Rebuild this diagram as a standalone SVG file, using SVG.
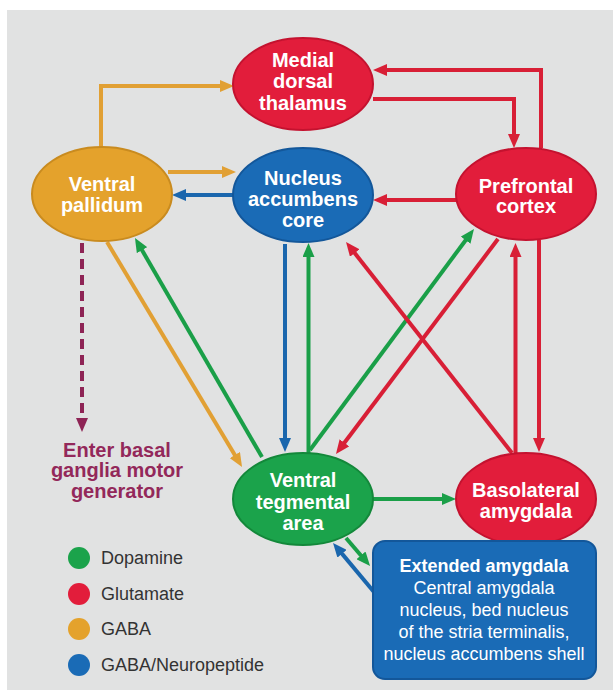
<svg xmlns="http://www.w3.org/2000/svg" width="613" height="700" viewBox="0 0 613 700">
<style>
.bg{fill:#e1e2e2}
.red{fill:#e21d3b;stroke:#c4122f;stroke-width:2}
.blue{fill:#1a6bb6;stroke:#13579a;stroke-width:2}
.green{fill:#1ba34b;stroke:#13883a;stroke-width:2}
.orange{fill:#e4a22c;stroke:#c98b1f;stroke-width:2}
.nt{font-family:"Liberation Sans",Arial,sans-serif;font-weight:bold;font-size:20px;fill:#fff;text-anchor:middle}
.lt{font-family:"Liberation Sans",Arial,sans-serif;font-size:18px;fill:#333}
.et{font-family:"Liberation Sans",Arial,sans-serif;font-size:18px;fill:#fff;text-anchor:middle}
.mt{font-family:"Liberation Sans",Arial,sans-serif;font-weight:bold;font-size:20px;fill:#93285a;text-anchor:middle}
.c{fill:none;stroke-width:4}
.cr{stroke:#d81f36;marker-end:url(#ar)}
.cb{stroke:#1a66ad;marker-end:url(#ab)}
.cg{stroke:#1a9f48;marker-end:url(#ag)}
.co{stroke:#e1a034;marker-end:url(#ao)}
.cm{stroke:#8e2455;stroke-dasharray:10 6;marker-end:url(#am)}
</style>
<defs>
<marker id="ar" markerUnits="userSpaceOnUse" markerWidth="14" markerHeight="12" refX="5" refY="6" orient="auto"><path d="M0,0L14,6L0,12z" fill="#d81f36"/></marker>
<marker id="ab" markerUnits="userSpaceOnUse" markerWidth="14" markerHeight="12" refX="5" refY="6" orient="auto"><path d="M0,0L14,6L0,12z" fill="#1a66ad"/></marker>
<marker id="ag" markerUnits="userSpaceOnUse" markerWidth="14" markerHeight="12" refX="5" refY="6" orient="auto"><path d="M0,0L14,6L0,12z" fill="#1a9f48"/></marker>
<marker id="ao" markerUnits="userSpaceOnUse" markerWidth="14" markerHeight="12" refX="5" refY="6" orient="auto"><path d="M0,0L14,6L0,12z" fill="#e1a034"/></marker>
<marker id="am" markerUnits="userSpaceOnUse" markerWidth="14" markerHeight="12" refX="5" refY="6" orient="auto"><path d="M0,0L14,6L0,12z" fill="#8e2455"/></marker>
</defs>
<rect class="bg" x="7" y="10" width="606" height="680"/>
<g id="connectors">
<path class="c co" d="M101,148V86H225"/>
<path class="c cr" d="M541,148V70H382"/>
<path class="c cr" d="M373,99H514V139"/>
<path class="c co" d="M168,172H227"/>
<path class="c cb" d="M234,195H181"/>
<path class="c cr" d="M456,200H382"/>
<path class="c co" d="M107,242L237.4,459.3"/>
<path class="c cg" d="M262,457L139.5,245.8"/>
<path class="c cb" d="M285,244V443"/>
<path class="c cg" d="M308.5,453V252"/>
<path class="c cg" d="M310,450L468.6,236.2"/>
<path class="c cr" d="M498,239L341.4,446.8"/>
<path class="c cr" d="M512,453L351.6,249.1"/>
<path class="c cr" d="M515.5,453V252"/>
<path class="c cr" d="M539,240V443"/>
<path class="c cg" d="M373,499H447"/>
<path class="c cg" d="M346,538L364.2,559.2"/>
<path class="c cb" d="M374,592L338.8,549.9"/>
<path class="c cm" d="M82,243V423"/>
</g>
<g id="mdt"><ellipse class="red" cx="303" cy="84" rx="70" ry="46"/><text class="nt" x="303" y="67">Medial</text><text class="nt" x="303" y="88">dorsal</text><text class="nt" x="303" y="110">thalamus</text></g>
<g id="vp"><ellipse class="orange" cx="102" cy="194" rx="70" ry="47"/><text class="nt" x="102" y="191">Ventral</text><text class="nt" x="102" y="212">pallidum</text></g>
<g id="nac"><ellipse class="blue" cx="303" cy="195" rx="70" ry="47"/><text class="nt" x="303" y="185">Nucleus</text><text class="nt" x="303" y="206">accumbens</text><text class="nt" x="303" y="227">core</text></g>
<g id="pfc"><ellipse class="red" cx="526" cy="194" rx="70" ry="46"/><text class="nt" x="526" y="193">Prefrontal</text><text class="nt" x="526" y="213">cortex</text></g>
<g id="vta"><ellipse class="green" cx="303" cy="499" rx="70" ry="46"/><text class="nt" x="303" y="487">Ventral</text><text class="nt" x="303" y="509">tegmental</text><text class="nt" x="303" y="530">area</text></g>
<g id="bla"><ellipse class="red" cx="526" cy="499" rx="70" ry="46"/><text class="nt" x="526" y="497">Basolateral</text><text class="nt" x="526" y="518">amygdala</text></g>
<g id="ea"><rect x="373" y="541" width="223" height="138" rx="12" fill="#1a6bb6" stroke="#13579a" stroke-width="2"/><text class="et" x="484" y="572" font-weight="bold">Extended amygdala</text><text class="et" x="484" y="594">Central amygdala</text><text class="et" x="484" y="616">nucleus, bed nucleus</text><text class="et" x="484" y="638">of the stria terminalis,</text><text class="et" x="484" y="660">nucleus accumbens shell</text></g>
<g id="motor"><text class="mt" x="117" y="457">Enter basal</text><text class="mt" x="117" y="477">ganglia motor</text><text class="mt" x="117" y="498">generator</text></g>
<g id="legend">
<circle cx="79" cy="558" r="11" fill="#1ba34b"/><text class="lt" x="101" y="564">Dopamine</text>
<circle cx="79" cy="594" r="11" fill="#e21d3b"/><text class="lt" x="101" y="600">Glutamate</text>
<circle cx="79" cy="629" r="11" fill="#e4a22c"/><text class="lt" x="101" y="635">GABA</text>
<circle cx="79" cy="665" r="11" fill="#1a6bb6"/><text class="lt" x="101" y="671">GABA/Neuropeptide</text>
</g>
</svg>
